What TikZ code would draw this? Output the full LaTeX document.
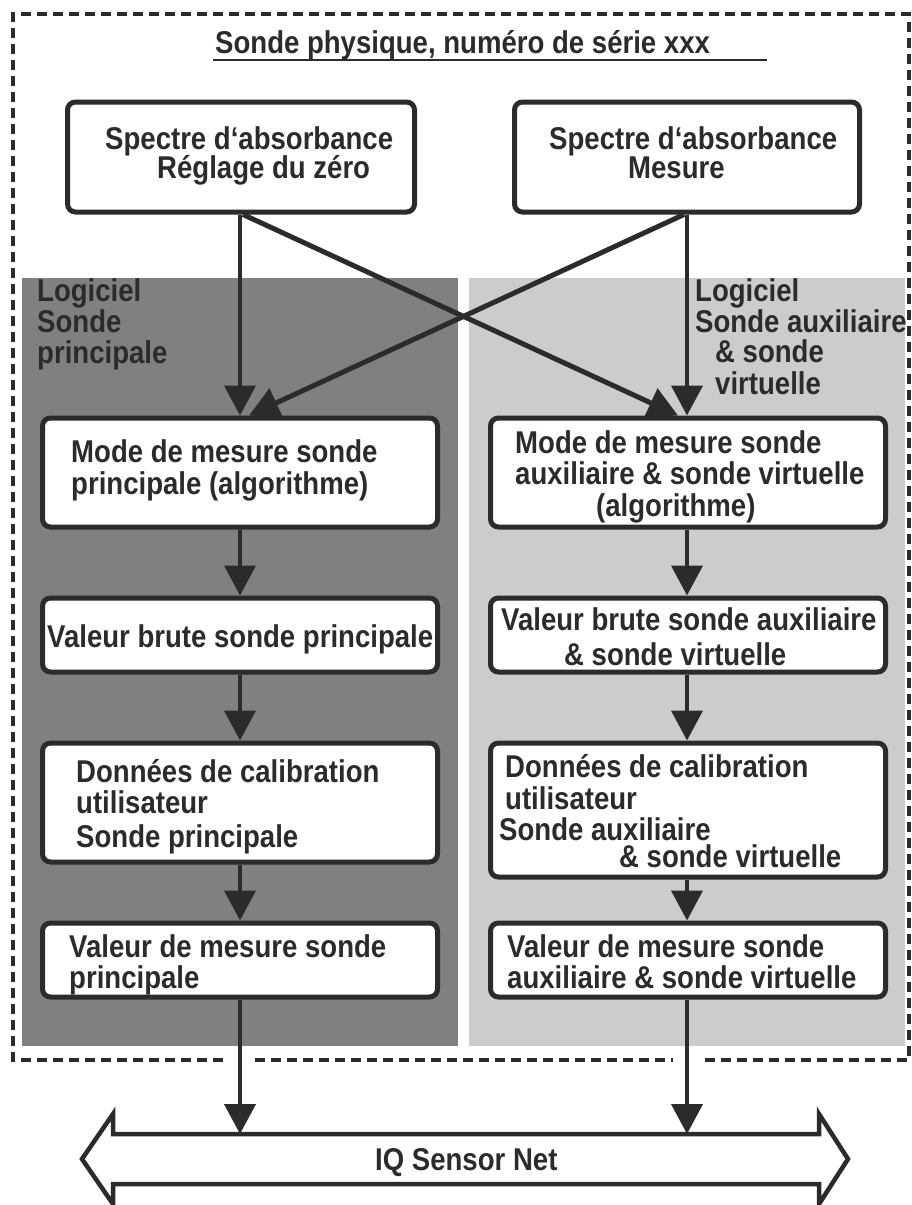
\documentclass[tikz,border=0pt]{standalone}
\usepackage{fontspec}
\newfontfamily\labfont{Liberation Sans}[FakeStretch=0.875]
\usetikzlibrary{arrows.meta}
\definecolor{ink}{HTML}{2B2B2B}
\definecolor{darkpanel}{HTML}{808080}
\definecolor{lightpanel}{HTML}{CCCCCC}
\tikzset{
  lbl/.style={inner sep=0pt, anchor=base west, text=ink, font=\labfont\bfseries\fontsize{31.5pt}{30pt}\selectfont},
  procbox/.style={draw=ink, line width=5pt, rounded corners=8pt, fill=white, inner sep=0pt},
  flow/.style={draw=ink, line width=4pt, -{Triangle[length=30pt,width=31pt]}},
  diag/.style={draw=ink, line width=5pt, -{Triangle[length=30pt,width=31pt]}},
  frame/.style={draw=ink, line width=4.5pt, dash pattern=on 10pt off 6pt}
}
\begin{document}
\begin{tikzpicture}[x=1pt,y=-1pt]
\useasboundingbox (0,0) rectangle (911,1205);
\fill[white] (0,0) rectangle (911,1205);
% panels
\fill[darkpanel] (22,278) rectangle (458,1046);
\fill[lightpanel] (469,278) rectangle (905,1046);
% dashed frame
\draw[frame] (255,1060) -- (673,1060);
\draw[frame] (223,1060) -- (13,1060) -- (13,14) -- (909,14) -- (909,1060) -- (703,1060);
% title
\node[lbl] (title) at (215,53) {Sonde physique, numéro de série xxx};
\draw[ink, line width=2pt] (213,60) -- (767,60);
% boxes
\node[procbox, minimum width=347pt, minimum height=110pt] (tl) at (241,157) {};
\node[procbox, minimum width=345pt, minimum height=110pt] (tr) at (687,157) {};
\node[procbox, minimum width=395pt, minimum height=109pt] (ml) at (240,472.5) {};
\node[procbox, minimum width=395pt, minimum height=109pt] (mr) at (688,472.5) {};
\node[procbox, minimum width=395pt, minimum height=74pt] (bl) at (240,635) {};
\node[procbox, minimum width=395pt, minimum height=74pt] (br) at (688,635) {};
\node[procbox, minimum width=395pt, minimum height=119pt] (dl) at (240,802.5) {};
\node[procbox, minimum width=395pt, minimum height=134pt] (dr) at (688,810) {};
\node[procbox, minimum width=395pt, minimum height=74pt] (vl) at (240,960) {};
\node[procbox, minimum width=395pt, minimum height=74pt] (vr) at (688,960) {};
% panel labels
\node[lbl] (pl1) at (37,301) {Logiciel};
\node[lbl] (pl2) at (37,332) {Sonde};
\node[lbl] (pl3) at (37,363) {principale};
\node[lbl] (pr1) at (695,301) {Logiciel};
\node[lbl] (pr2) at (695,332) {Sonde auxiliaire};
\node[lbl] (pr3) at (715,362) {\& sonde};
\node[lbl] (pr4) at (715,394) {virtuelle};
% box texts
\node[lbl] (t1a) at (105,149) {Spectre d‘absorbance};
\node[lbl] (t1b) at (157,178) {Réglage du zéro};
\node[lbl] (t2a) at (549,149) {Spectre d‘absorbance};
\node[lbl] (t2b) at (628,178) {Mesure};
\node[lbl] (m1a) at (71,462) {Mode de mesure sonde};
\node[lbl] (m1b) at (71,494) {principale (algorithme)};
\node[lbl] (m2a) at (515,453) {Mode de mesure sonde};
\node[lbl] (m2b) at (515,484) {auxiliaire \& sonde virtuelle};
\node[lbl] (m2c) at (596,516) {(algorithme)};
\node[lbl] (b1a) at (47,647) {Valeur brute sonde principale};
\node[lbl] (b2a) at (501,630) {Valeur brute sonde auxiliaire};
\node[lbl] (b2b) at (564,665) {\& sonde virtuelle};
\node[lbl] (d1a) at (76,782) {Données de calibration};
\node[lbl] (d1b) at (76,813) {utilisateur};
\node[lbl] (d1c) at (76,847) {Sonde principale};
\node[lbl] (d2a) at (505,777) {Données de calibration};
\node[lbl] (d2b) at (505,809) {utilisateur};
\node[lbl] (d2c) at (499,840) {Sonde auxiliaire};
\node[lbl] (d2d) at (619,867) {\& sonde virtuelle};
\node[lbl] (v1a) at (69,957) {Valeur de mesure sonde};
\node[lbl] (v1b) at (69,988) {principale};
\node[lbl] (v2a) at (507,957) {Valeur de mesure sonde};
\node[lbl] (v2b) at (507,988) {auxiliaire \& sonde virtuelle};
% connectors
\draw[flow] ([xshift=-1pt]tl.south) -- (ml.north);
\draw[flow] (tr.south) -- ([xshift=-1pt]mr.north);
\draw[diag] ([xshift=2pt]tl.south) -- ([xshift=-10pt]mr.north);
\draw[diag] ([xshift=-3pt]tr.south) -- ([xshift=9pt]ml.north);
\draw[flow] (ml.south) -- (bl.north);
\draw[flow] ([xshift=-1pt]mr.south) -- ([xshift=-1pt]br.north);
\draw[flow] (bl.south) -- (dl.north);
\draw[flow] ([xshift=-1pt]br.south) -- ([xshift=-1pt]dr.north);
\draw[flow] (dl.south) -- (vl.north);
\draw[flow] ([xshift=-1pt]dr.south) -- ([xshift=-1pt]vr.north);
% IQ Sensor Net double arrow
\draw[ink, line width=4.5pt, fill=white, line join=miter]
  (82,1159) -- (113,1114) -- (113,1134) -- (819,1134) -- (819,1114) -- (848,1159)
  -- (819,1204) -- (819,1184) -- (113,1184) -- (113,1204) -- cycle;
\coordinate (nl) at (240,1134);
\coordinate (nr) at (687,1134);
\node[lbl] (net) at (375,1170) {IQ Sensor Net};
\draw[flow] (vl.south) -- (nl);
\draw[flow] ([xshift=-1pt]vr.south) -- (nr);
\end{tikzpicture}
\end{document}
